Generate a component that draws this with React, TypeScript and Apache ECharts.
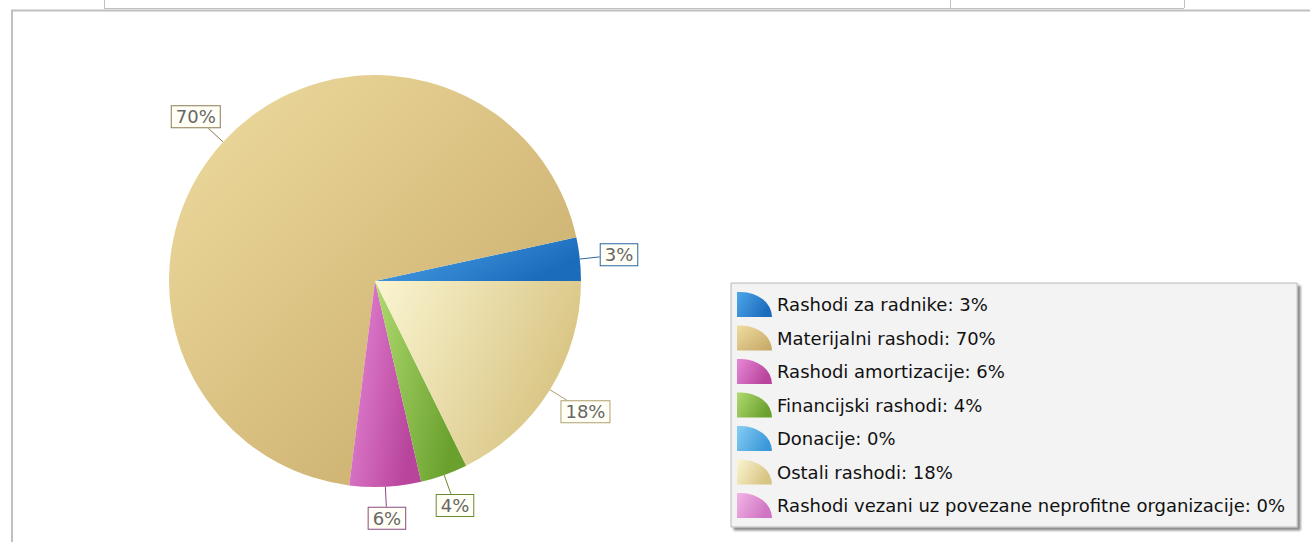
import React, { useEffect, useRef } from "react";
import * as echarts from "echarts";

const categories = [
  "Rashodi za radnike",
  "Materijalni rashodi",
  "Rashodi amortizacije",
  "Financijski rashodi",
  "Donacije",
  "Ostali rashodi",
  "Rashodi vezani uz povezane neprofitne organizacije",
];
const values = [3.4, 69.6, 5.6, 3.7, 0, 17.7, 0];
const lightColors = ["#4ea6ea", "#efdca0", "#e688d6", "#b0da70", "#86cdf4", "#faf5d2", "#f2b4e6"];
const darkColors = ["#1c6cbc", "#c4a664", "#b8449c", "#6aa12e", "#3b98d8", "#d8c482", "#cf74c2"];
const edgeColors = ["#2a66a4", "#8c7a52", "#8a4a80", "#6a8a30", "#3b7fb0", "#b0a070", "#a060a0"];

const FONT = "DejaVu Sans";

export default function App() {
  const ref = useRef<HTMLDivElement>(null);
  useEffect(() => {
    if (!ref.current) return;
    const chart = echarts.init(ref.current, undefined, { renderer: "svg" });
    const total = values.reduce((a, b) => a + b, 0);
    const pct = (v: number) => Math.round((v / total) * 100);
    const grad = (i: number, big: boolean) => ({
      type: "linear",
      x: 0,
      y: 0,
      x2: 1,
      y2: big ? 1 : 0.4,
      colorStops: [
        { offset: 0, color: lightColors[i] },
        { offset: 1, color: darkColors[i] },
      ],
    });
    const data = categories.map((name, i) => ({
      name,
      value: values[i],
      itemStyle: { color: grad(i, i === 1) },
      label: { borderColor: edgeColors[i] },
      labelLine: { lineStyle: { color: edgeColors[i] } },
    }));
    const lineStyle = { stroke: "#c0c0c0", lineWidth: 1 };
    chart.setOption({
      animation: false,
      backgroundColor: "#ffffff",
      graphic: [
        { type: "line", shape: { x1: 104, y1: 8.5, x2: 1184, y2: 8.5 }, style: lineStyle },
        { type: "line", shape: { x1: 104.5, y1: 0, x2: 104.5, y2: 8 }, style: lineStyle },
        { type: "line", shape: { x1: 950.5, y1: 0, x2: 950.5, y2: 8 }, style: lineStyle },
        { type: "line", shape: { x1: 1184.5, y1: 0, x2: 1184.5, y2: 8 }, style: lineStyle },
        { type: "line", shape: { x1: 11, y1: 10.5, x2: 1310, y2: 10.5 }, style: { stroke: "#c0c0c0", lineWidth: 2 } },
        { type: "line", shape: { x1: 12, y1: 10, x2: 12, y2: 542 }, style: { stroke: "#c0c0c0", lineWidth: 2 } },
      ],
      legend: {
        orient: "vertical",
        left: 731,
        top: 283,
        padding: [9, 12, 9, 6],
        itemWidth: 35,
        itemHeight: 25,
        itemGap: 8.5,
        backgroundColor: "#f3f3f3",
        borderColor: "#b8b8b8",
        borderWidth: 1,
        shadowColor: "rgba(0,0,0,0.45)",
        shadowBlur: 2,
        shadowOffsetX: 3,
        shadowOffsetY: 3,
        icon: "path://M0 25 L0 0 L4 0 A31 25 0 0 1 35 25 Z",
        textStyle: { fontFamily: FONT, fontSize: 18, color: "#111" },
        formatter: (name: string) => {
          const i = categories.indexOf(name);
          return `${name}: ${pct(values[i])}%`;
        },
        selectedMode: false,
        data: categories,
      },
      series: [
        {
          type: "pie",
          center: [375, 281],
          radius: 206,
          startAngle: 0,
          clockwise: false,
          minShowLabelAngle: 0.5,
          avoidLabelOverlap: false,
          itemStyle: { borderWidth: 0 },
          label: {
            show: true,
            position: "outside",
            formatter: (p: any) => `${Math.round(p.percent)}%`,
            fontFamily: FONT,
            fontSize: 18,
            color: "#666",
            backgroundColor: "#fffff6",
            borderWidth: 1,
            padding: [2, 4, 1, 4],
          },
          labelLine: { show: true, length: 20, length2: 0, smooth: false, lineStyle: { width: 1 } },
          labelLayout: (params: any) => {
            const pts = params.labelLinePoints;
            if (!pts || pts.length < 2) return {};
            const p0 = pts[0];
            const p1 = pts[1];
            const dx = p1[0] - p0[0];
            const dy = p1[1] - p0[1];
            const L = Math.hypot(dx, dy) || 1;
            const ux = dx / L;
            const uy = dy / L;
            const w = params.labelRect.width;
            const h = params.labelRect.height;
            const ex = Math.abs(ux) > 1e-6 ? w / 2 / Math.abs(ux) : Infinity;
            const ey = Math.abs(uy) > 1e-6 ? h / 2 / Math.abs(uy) : Infinity;
            const ext = Math.min(ex, ey);
            return {
              x: p1[0] + ux * ext,
              y: p1[1] + uy * ext,
              align: "center",
              verticalAlign: "middle",
              labelLinePoints: [p0, p1, p1],
            };
          },
          data,
        },
      ],
    });
    return () => chart.dispose();
  }, []);
  return (
    <div
      ref={ref}
      style={{ position: "absolute", left: 0, top: 0, width: 1310, height: 542 }}
    />
  );
}
